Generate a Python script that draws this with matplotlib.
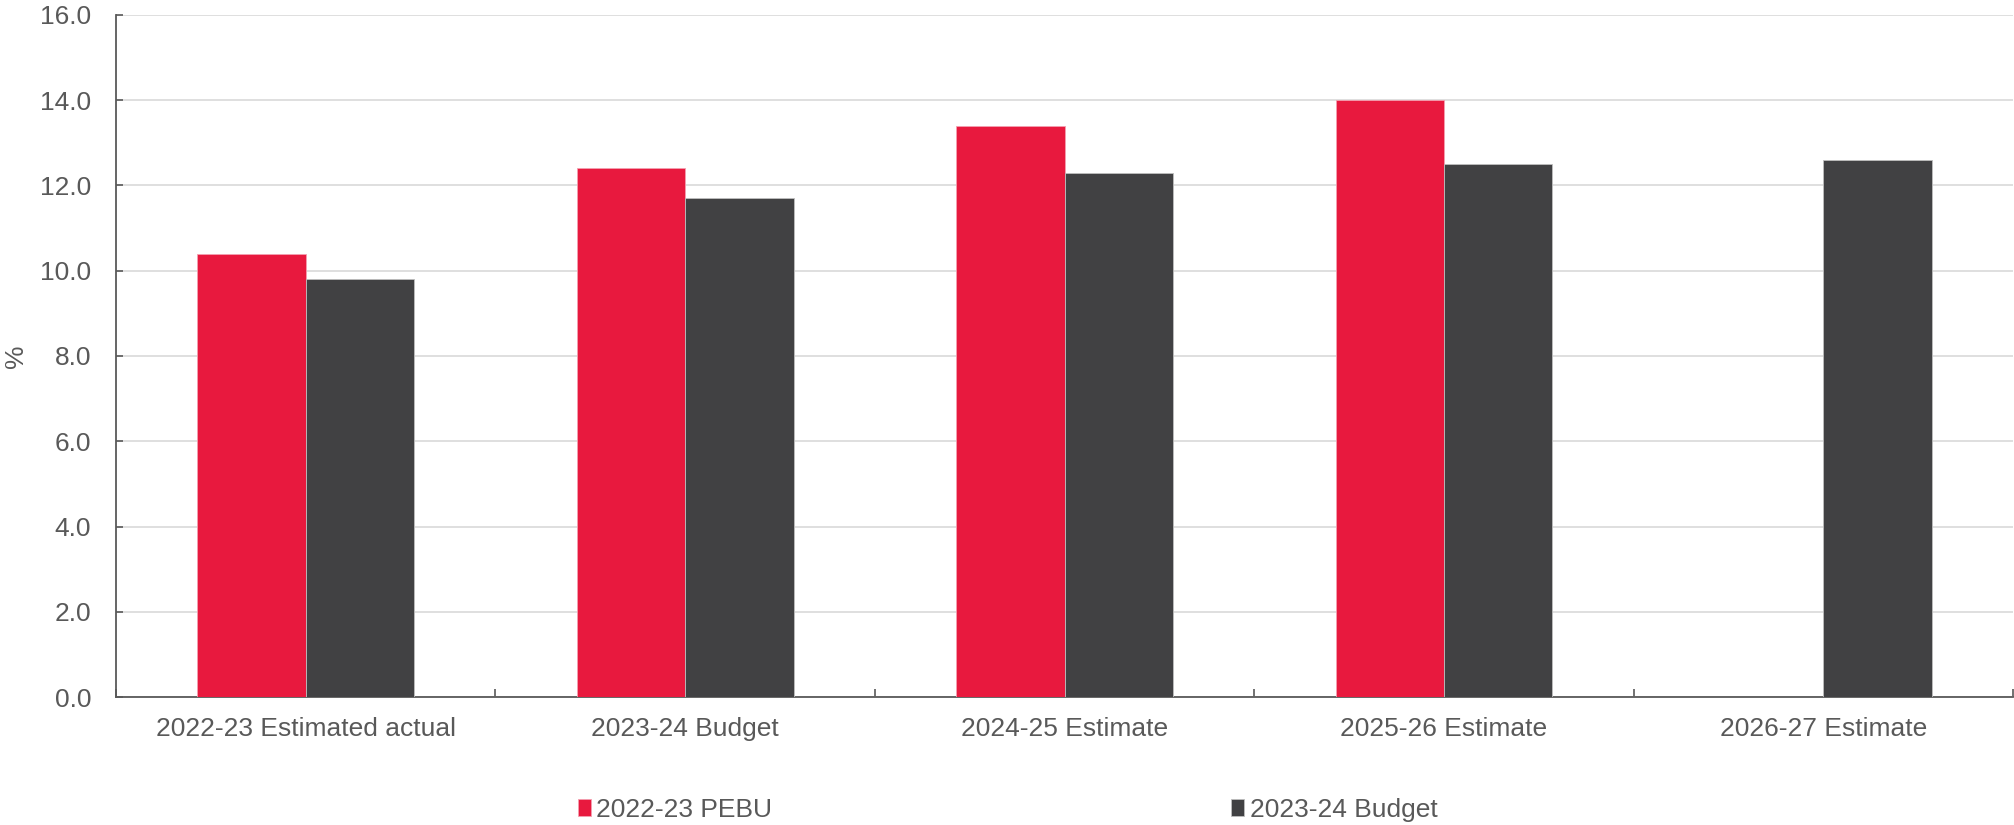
import matplotlib.pyplot as plt
import numpy as np

plt.rcParams['font.family'] = ['Liberation Sans', 'DejaVu Sans']

categories = ["2022-23 Estimated actual", "2023-24 Budget", "2024-25 Estimate",
              "2025-26 Estimate", "2026-27 Estimate"]
pebu_2223 = [10.4, 12.4, 13.4, 14.0, np.nan]
budget_2324 = [9.8, 11.7, 12.3, 12.5, 12.6]
series_names = ["2022-23 PEBU", "2023-24 Budget"]

RED = "#E8193E"
DARK = "#414143"
TEXT = "#595959"
FS = 19

fig = plt.figure(figsize=(20.15, 8.25), dpi=100)
ax = fig.add_axes([0.0576, 0.155, 0.9414, 0.827])

x = np.arange(len(categories))
w = 1 / 3.5
ax.bar(x - w / 2, pebu_2223, w, color=RED, edgecolor="#f4a0b0", linewidth=0.6,
       label=series_names[0], zorder=3)
ax.bar(x + w / 2, budget_2324, w, color=DARK, edgecolor="#bfbfbf", linewidth=0.6,
       label=series_names[1], zorder=3)

ax.set_xlim(-0.5, len(categories) - 0.5)
ax.set_ylim(0, 16)
ax.set_yticks(np.arange(0, 16.1, 2))
ax.set_yticklabels([f"{v:.1f}" for v in np.arange(0, 16.1, 2)])
ax.yaxis.grid(True, color="#D9D9D9", linewidth=1.2, zorder=0)
ax.set_axisbelow(True)

ax.set_xticks(np.arange(-0.5, len(categories)), labels=[""] * (len(categories) + 1))
ax.set_xticks(x, labels=categories, minor=True)
ax.tick_params(axis="x", which="major", direction="in", length=6, width=1.2, color=TEXT)
ax.tick_params(axis="x", which="minor", length=0, pad=14, labelsize=FS, labelcolor=TEXT)
ax.tick_params(axis="y", direction="in", length=5, width=1.2, color=TEXT,
               pad=18, labelsize=FS, labelcolor=TEXT)

for s in ["top", "right"]:
    ax.spines[s].set_visible(False)
for s in ["left", "bottom"]:
    ax.spines[s].set_color(TEXT)
    ax.spines[s].set_linewidth(1.3)

ax.set_ylabel("%", fontsize=FS, color=TEXT)
ax.yaxis.set_label_coords(-0.0465, 0.5)

fig.legend(loc="center", bbox_to_anchor=(0.5, 1 - 810 / 825), ncol=2, frameon=False,
           fontsize=FS, labelcolor=TEXT, handlelength=0.5, handleheight=0.6,
           handletextpad=0.2, columnspacing=17.4)

fig.savefig("out.png", dpi=100)
